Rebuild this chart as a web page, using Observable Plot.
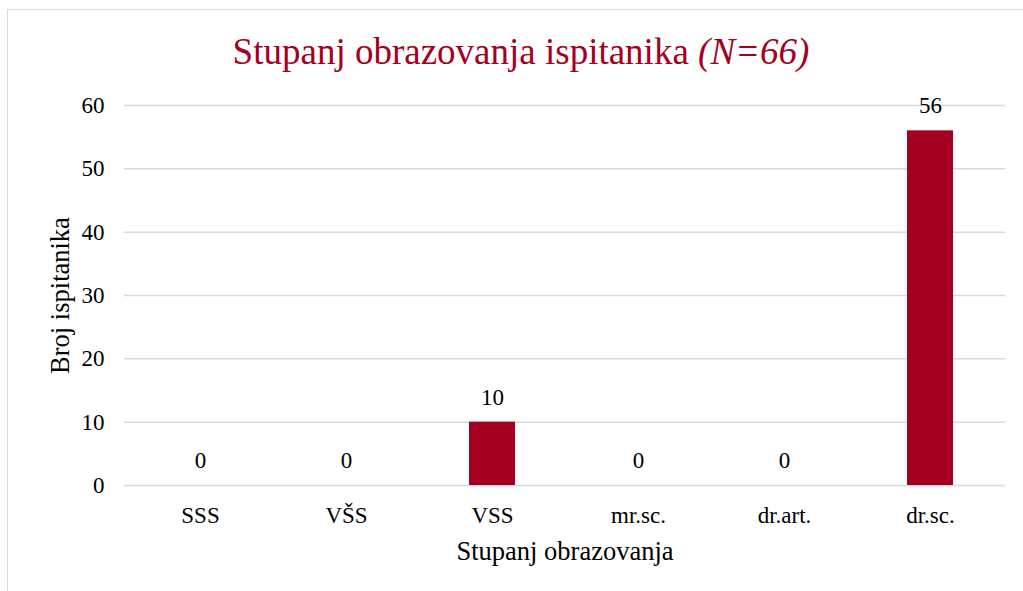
<!DOCTYPE html>
<html>
<head>
<meta charset="utf-8">
<script src="https://cdn.jsdelivr.net/npm/d3@7"></script>
<script src="https://cdn.jsdelivr.net/npm/@observablehq/plot@0.6"></script>
<style>
  html, body { margin: 0; padding: 0; background: #fff; overflow: hidden; }
  #frame { position: absolute; left: 7px; top: 9px; width: 1040px; height: 620px;
           border-left: 1.5px solid #d9d9d9; border-top: 1.5px solid #d9d9d9; }
  #title { position: absolute; left: 0; top: 30px; width: 1042px; text-align: center; white-space: nowrap;
           font-family: "Liberation Serif", "Times New Roman", serif; font-size: 37px; color: #A50021; }
  #chart { position: absolute; left: 0; top: 0; }
</style>
</head>
<body>
<div id="frame"></div>
<div id="title">Stupanj obrazovanja ispitanika <i>(N=66)</i></div>
<div id="chart"></div>
<script>
const categories = ["SSS", "VŠS", "VSS", "mr.sc.", "dr.art.", "dr.sc."];
const counts = [0, 0, 10, 0, 0, 56];
const yTicks = [0, 10, 20, 30, 40, 50, 60];

const data = categories.map((c, i) => ({cat: c, n: counts[i]}));
const font = '"Liberation Serif", "Times New Roman", serif';

const chart = Plot.plot({
  width: 1023,
  height: 591,
  marginLeft: 124,
  marginRight: 18,
  marginTop: 105,
  marginBottom: 106,
  style: {fontFamily: font, fontSize: "23px", color: "#000", background: "transparent"},
  x: {domain: categories, paddingInner: 0.687, paddingOuter: 0.3435, label: null},
  y: {domain: [0, 60], ticks: yTicks, label: null},
  marks: [
    Plot.ruleY(yTicks, {stroke: "#d9d9d9", strokeWidth: 1.5}),
    Plot.barY(data, {x: "cat", y: "n", fill: "#A50021"}),
    Plot.text(data, {x: "cat", y: "n", text: d => String(d.n), dy: -25, fontSize: 23, fill: "#000"}),
    Plot.axisX({tickSize: 0, tickPadding: 21, fontSize: 23, label: null}),
    Plot.axisY({ticks: yTicks, tickSize: 0, tickPadding: 20, fontSize: 23, label: null}),
    Plot.text(["Stupanj obrazovanja"], {frameAnchor: "bottom", lineAnchor: "middle", dy: 66, fontSize: 26.5, fill: "#000"}),
    Plot.text(["Broj ispitanika"], {frameAnchor: "left", textAnchor: "middle", lineAnchor: "middle", dx: -64, rotate: -90, fontSize: 26.5, fill: "#000"})
  ]
});
document.getElementById("chart").appendChild(chart);
</script>
</body>
</html>
